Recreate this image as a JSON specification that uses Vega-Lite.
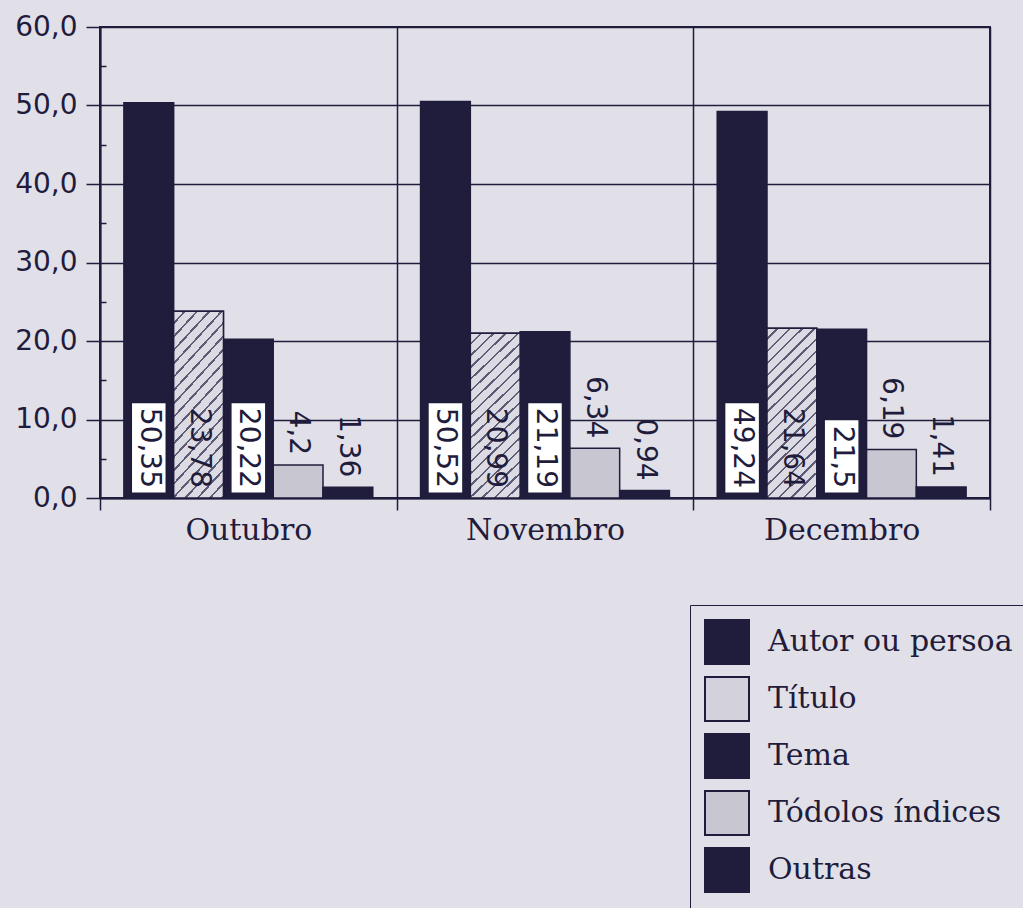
{
  "$schema": "https://vega.github.io/schema/vega-lite/v6.json",
  "width": 890,
  "height": 471,
  "autosize": "none",
  "padding": {"left": 100, "top": 27, "right": 33, "bottom": 410},
  "background": "#e1e0e8",
  "config": {
    "view": {"stroke": "#1f1c3c", "strokeWidth": 2},
    "axis": {
      "domainColor": "#1f1c3c",
      "domainWidth": 2,
      "tickColor": "#1f1c3c",
      "tickWidth": 1.5,
      "gridColor": "#1f1c3c",
      "gridWidth": 1.5,
      "gridOpacity": 1,
      "labelColor": "#1f1c3c",
      "title": null
    },
    "axisY": {
      "values": [0, 2, 4, 6, 8, 10, 12, 14, 16, 18, 20, 22, 24, 26, 28, 30, 32, 34, 36, 38, 40, 42, 44, 46, 48, 50, 52, 54, 56, 58, 60],
      "labelExpr": "datum.value % 10 === 0 ? replace(format(datum.value, '.1f'), '.', ',') : ''",
      "labelOverlap": false,
      "grid": true,
      "gridOpacity": {"expr": "datum.value % 10 === 0 ? 1 : 0"},
      "tickSize": {"expr": "datum.value % 10 === 0 ? 14 : -6"},
      "labelFont": "DejaVu Sans",
      "labelFontSize": 28,
      "labelPadding": 9
    }
  },
  "data": {
    "values": [
      {"mes": "Outubro", "indice": "Autor ou persoa", "value": 50.35},
      {"mes": "Outubro", "indice": "Título", "value": 23.78},
      {"mes": "Outubro", "indice": "Tema", "value": 20.22},
      {"mes": "Outubro", "indice": "Tódolos índices", "value": 4.2},
      {"mes": "Outubro", "indice": "Outras", "value": 1.36},
      {"mes": "Novembro", "indice": "Autor ou persoa", "value": 50.52},
      {"mes": "Novembro", "indice": "Título", "value": 20.99},
      {"mes": "Novembro", "indice": "Tema", "value": 21.19},
      {"mes": "Novembro", "indice": "Tódolos índices", "value": 6.34},
      {"mes": "Novembro", "indice": "Outras", "value": 0.94},
      {"mes": "Decembro", "indice": "Autor ou persoa", "value": 49.24},
      {"mes": "Decembro", "indice": "Título", "value": 21.64},
      {"mes": "Decembro", "indice": "Tema", "value": 21.5},
      {"mes": "Decembro", "indice": "Tódolos índices", "value": 6.19},
      {"mes": "Decembro", "indice": "Outras", "value": 1.41}
    ]
  },
  "transform": [
    {"calculate": "replace('' + datum.value, '.', ',')", "as": "label"},
    {"calculate": "1.4 + length(datum.label) * 2.15", "as": "boxTop"}
  ],
  "encoding": {
    "x": {
      "field": "mes",
      "type": "nominal",
      "sort": ["Outubro", "Novembro", "Decembro"],
      "scale": {"paddingInner": 0, "paddingOuter": 0},
      "axis": {
        "labelAngle": 0,
        "tickBand": "extent",
        "tickSize": 12,
        "grid": true,
        "labelFont": "DejaVu Serif",
        "labelFontSize": 30,
        "labelPadding": 5
      }
    },
    "xOffset": {
      "field": "indice",
      "type": "nominal",
      "sort": ["Autor ou persoa", "Título", "Tema", "Tódolos índices", "Outras"],
      "scale": {"paddingInner": 0, "paddingOuter": 0.48}
    }
  },
  "layer": [
    {
      "mark": {"type": "bar", "stroke": "#1f1c3c", "strokeWidth": 1.5},
      "encoding": {
        "y": {
          "field": "value",
          "type": "quantitative",
          "scale": {"domain": [0, 60], "nice": false}
        },
        "color": {
          "field": "indice",
          "type": "nominal",
          "sort": ["Autor ou persoa", "Título", "Tema", "Tódolos índices", "Outras"],
          "scale": {
            "domain": ["Autor ou persoa", "Título", "Tema", "Tódolos índices", "Outras"],
            "range": ["#1f1c3c", "#d3d2dc", "#1f1c3c", "#c8c7d1", "#1f1c3c"]
          },
          "legend": {
            "orient": "none",
            "legendX": 590,
            "legendY": 578,
            "title": null,
            "strokeColor": "#1f1c3c",
            "padding": 14,
            "symbolType": "square",
            "symbolSize": 1936,
            "symbolStrokeColor": "#1f1c3c",
            "symbolStrokeWidth": 2,
            "symbolOpacity": 1,
            "labelFont": "DejaVu Serif",
            "labelFontSize": 30,
            "labelColor": "#1f1c3c",
            "labelOffset": 18,
            "labelLimit": 400,
            "rowPadding": 5
          }
        }
      }
    },
    {
      "transform": [{"filter": "datum.indice === 'Título'"}],
      "mark": {
        "type": "bar",
        "stroke": "#1f1c3c",
        "strokeWidth": 1.5,
        "fill": {
          "gradient": "linear",
          "x1": 0, "y1": 0, "x2": 0.345, "y2": 1.19,
          "stops": [
            {"offset": 0, "color": "#dcdbe3"}, {"offset": 0.0444, "color": "#dcdbe3"}, {"offset": 0.0444, "color": "#5d5b75"}, {"offset": 0.0556, "color": "#5d5b75"},
            {"offset": 0.0556, "color": "#dcdbe3"}, {"offset": 0.1, "color": "#dcdbe3"}, {"offset": 0.1, "color": "#5d5b75"}, {"offset": 0.1111, "color": "#5d5b75"},
            {"offset": 0.1111, "color": "#dcdbe3"}, {"offset": 0.1556, "color": "#dcdbe3"}, {"offset": 0.1556, "color": "#5d5b75"}, {"offset": 0.1667, "color": "#5d5b75"},
            {"offset": 0.1667, "color": "#dcdbe3"}, {"offset": 0.2111, "color": "#dcdbe3"}, {"offset": 0.2111, "color": "#5d5b75"}, {"offset": 0.2222, "color": "#5d5b75"},
            {"offset": 0.2222, "color": "#dcdbe3"}, {"offset": 0.2667, "color": "#dcdbe3"}, {"offset": 0.2667, "color": "#5d5b75"}, {"offset": 0.2778, "color": "#5d5b75"},
            {"offset": 0.2778, "color": "#dcdbe3"}, {"offset": 0.3222, "color": "#dcdbe3"}, {"offset": 0.3222, "color": "#5d5b75"}, {"offset": 0.3333, "color": "#5d5b75"},
            {"offset": 0.3333, "color": "#dcdbe3"}, {"offset": 0.3778, "color": "#dcdbe3"}, {"offset": 0.3778, "color": "#5d5b75"}, {"offset": 0.3889, "color": "#5d5b75"},
            {"offset": 0.3889, "color": "#dcdbe3"}, {"offset": 0.4333, "color": "#dcdbe3"}, {"offset": 0.4333, "color": "#5d5b75"}, {"offset": 0.4444, "color": "#5d5b75"},
            {"offset": 0.4444, "color": "#dcdbe3"}, {"offset": 0.4889, "color": "#dcdbe3"}, {"offset": 0.4889, "color": "#5d5b75"}, {"offset": 0.5, "color": "#5d5b75"},
            {"offset": 0.5, "color": "#dcdbe3"}, {"offset": 0.5444, "color": "#dcdbe3"}, {"offset": 0.5444, "color": "#5d5b75"}, {"offset": 0.5556, "color": "#5d5b75"},
            {"offset": 0.5556, "color": "#dcdbe3"}, {"offset": 0.6, "color": "#dcdbe3"}, {"offset": 0.6, "color": "#5d5b75"}, {"offset": 0.6111, "color": "#5d5b75"},
            {"offset": 0.6111, "color": "#dcdbe3"}, {"offset": 0.6556, "color": "#dcdbe3"}, {"offset": 0.6556, "color": "#5d5b75"}, {"offset": 0.6667, "color": "#5d5b75"},
            {"offset": 0.6667, "color": "#dcdbe3"}, {"offset": 0.7111, "color": "#dcdbe3"}, {"offset": 0.7111, "color": "#5d5b75"}, {"offset": 0.7222, "color": "#5d5b75"},
            {"offset": 0.7222, "color": "#dcdbe3"}, {"offset": 0.7667, "color": "#dcdbe3"}, {"offset": 0.7667, "color": "#5d5b75"}, {"offset": 0.7778, "color": "#5d5b75"},
            {"offset": 0.7778, "color": "#dcdbe3"}, {"offset": 0.8222, "color": "#dcdbe3"}, {"offset": 0.8222, "color": "#5d5b75"}, {"offset": 0.8333, "color": "#5d5b75"},
            {"offset": 0.8333, "color": "#dcdbe3"}, {"offset": 0.8778, "color": "#dcdbe3"}, {"offset": 0.8778, "color": "#5d5b75"}, {"offset": 0.8889, "color": "#5d5b75"},
            {"offset": 0.8889, "color": "#dcdbe3"}, {"offset": 0.9333, "color": "#dcdbe3"}, {"offset": 0.9333, "color": "#5d5b75"}, {"offset": 0.9444, "color": "#5d5b75"},
            {"offset": 0.9444, "color": "#dcdbe3"}, {"offset": 0.9889, "color": "#dcdbe3"}, {"offset": 0.9889, "color": "#5d5b75"}, {"offset": 1, "color": "#5d5b75"}
          ]
        }
      },
      "encoding": {
        "y": {"field": "value", "type": "quantitative"}
      }
    },
    {
      "transform": [{"filter": "datum.indice === 'Autor ou persoa' || datum.indice === 'Tema'"}],
      "mark": {"type": "bar", "fill": "white", "stroke": "#1f1c3c", "strokeWidth": 1.5, "width": 35},
      "encoding": {
        "y": {"field": "boxTop", "type": "quantitative"},
        "y2": {"datum": 0.6}
      }
    },
    {
      "transform": [{"filter": "datum.indice === 'Autor ou persoa' || datum.indice === 'Tema' || datum.indice === 'Título'"}],
      "mark": {"type": "text", "angle": 90, "align": "right", "baseline": "middle", "dx": -10, "font": "DejaVu Sans", "fontSize": 28, "fill": "#1f1c3c"},
      "encoding": {
        "y": {"datum": 0, "type": "quantitative"},
        "text": {"field": "label", "type": "nominal"}
      }
    },
    {
      "transform": [{"filter": "datum.indice === 'Tódolos índices' || datum.indice === 'Outras'"}],
      "mark": {"type": "text", "angle": 90, "align": "right", "baseline": "middle", "dx": -10, "font": "DejaVu Sans", "fontSize": 28, "fill": "#1f1c3c"},
      "encoding": {
        "y": {"field": "value", "type": "quantitative"},
        "text": {"field": "label", "type": "nominal"}
      }
    }
  ]
}
